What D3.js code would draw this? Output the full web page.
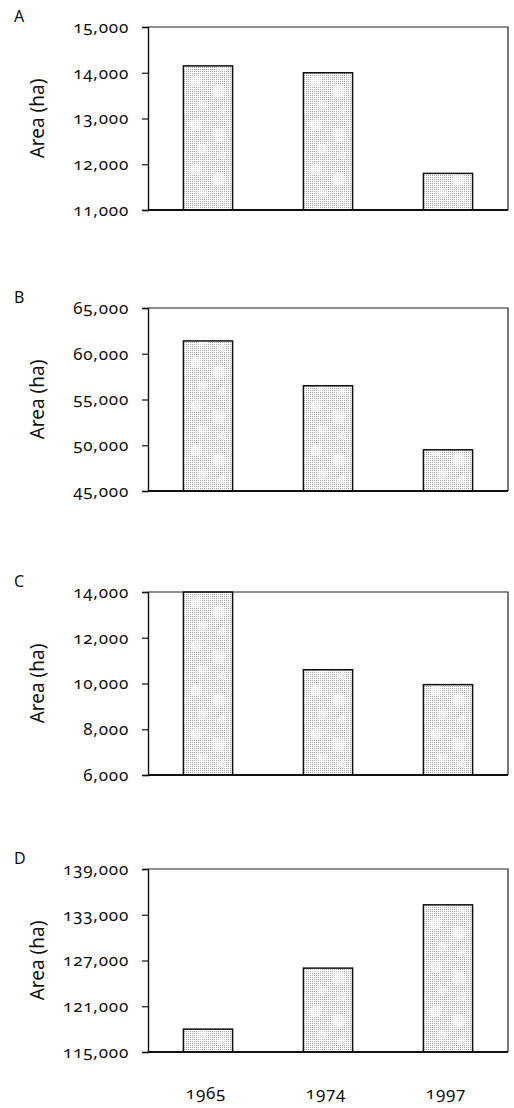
<!DOCTYPE html>
<html>
<head>
<meta charset="utf-8">
<script src="https://cdn.jsdelivr.net/npm/d3@7"></script>
<style>
  body { margin: 0; background: #fff; }
  svg text { font-family: 'Noto Sans', sans-serif; font-variant-numeric: oldstyle-nums; fill: #111; }
</style>
</head>
<body>
<div id="chart"></div>
<script>
const years = ['1965', '1974', '1997'];
const panelLabels = ['A', 'B', 'C', 'D'];
const areaA = [14150, 14000, 11800];
const areaB = [61400, 56500, 49500];
const areaC = [14000, 10600, 9950];
const areaD = [118000, 126000, 134300];
const ticksA = [11000, 12000, 13000, 14000, 15000];
const ticksB = [45000, 50000, 55000, 60000, 65000];
const ticksC = [6000, 8000, 10000, 12000, 14000];
const ticksD = [115000, 121000, 127000, 133000, 139000];
const yLabel = 'Area (ha)';

const panels = [
  { label: panelLabels[0], values: areaA, ticks: ticksA, top: 27 },
  { label: panelLabels[1], values: areaB, ticks: ticksB, top: 308 },
  { label: panelLabels[2], values: areaC, ticks: ticksC, top: 592 },
  { label: panelLabels[3], values: areaD, ticks: ticksD, top: 869 }
];

const width = 514, height = 1108;
const left = 148, plotW = 360, plotH = 183;

const svg = d3.select('#chart')
  .append('svg')
  .attr('width', width)
  .attr('height', height);

// stipple fill for the bars: fine dots with a few lighter blotches
const defs = svg.append('defs');
const dots = defs.append('pattern')
  .attr('id', 'dots')
  .attr('patternUnits', 'userSpaceOnUse')
  .attr('width', 2)
  .attr('height', 2);
dots.append('rect').attr('width', 2).attr('height', 2).attr('fill', '#fff');
dots.append('rect').attr('width', 1).attr('height', 1).attr('fill', '#a6a6a6');

const pat = defs.append('pattern')
  .attr('id', 'stipple')
  .attr('patternUnits', 'userSpaceOnUse')
  .attr('width', 40)
  .attr('height', 44);
pat.append('rect').attr('width', 40).attr('height', 44).attr('fill', 'url(#dots)');
[[8, 10, 6], [30, 20, 7], [14, 34, 5], [34, 40, 4]].forEach(([cx, cy, r]) => {
  pat.append('circle')
    .attr('cx', cx).attr('cy', cy).attr('r', r)
    .attr('fill', '#fff').attr('opacity', 0.6);
});

const x = d3.scaleBand()
  .domain(years)
  .range([0, plotW])
  .paddingInner(0.59)
  .paddingOuter(0.295);

const fmt = d3.format(',');

panels.forEach((p) => {
  const g = svg.append('g').attr('transform', `translate(${left},${p.top})`);
  const y = d3.scaleLinear()
    .domain(d3.extent(p.ticks))
    .range([plotH, 0]);

  // panel letter
  svg.append('text')
    .attr('x', 14)
    .attr('y', p.top - 5)
    .style('font-size', '16px')
    .text(p.label);

  // bars
  g.selectAll('rect.bar')
    .data(p.values)
    .join('rect')
    .attr('class', 'bar')
    .attr('x', (d, i) => x(years[i]))
    .attr('y', (d) => y(d))
    .attr('width', x.bandwidth())
    .attr('height', (d) => plotH - y(d))
    .attr('fill', 'url(#stipple)')
    .attr('stroke', '#111')
    .attr('stroke-width', 1.5);

  // frame top and right
  g.append('path')
    .attr('d', `M0,0H${plotW}V${plotH}`)
    .attr('fill', 'none')
    .attr('stroke', '#222')
    .attr('stroke-width', 1.2);

  // y axis
  const yAxis = g.append('g')
    .call(d3.axisLeft(y).tickValues(p.ticks).tickFormat(fmt).tickSize(6).tickPadding(13));
  yAxis.select('.domain').attr('stroke', '#111').attr('stroke-width', 1.4);
  yAxis.selectAll('.tick line').attr('stroke', '#111').attr('stroke-width', 1.2);
  yAxis.selectAll('.tick text')
    .style('font-size', '17px')
    .style('letter-spacing', '0.8px')
    .style('font-family', "'Noto Sans', sans-serif");

  // baseline
  g.append('line')
    .attr('x1', 0)
    .attr('x2', plotW)
    .attr('y1', plotH)
    .attr('y2', plotH)
    .attr('stroke', '#111')
    .attr('stroke-width', 2);

  // y title
  g.append('text')
    .attr('transform', `translate(${37 - left},${plotH / 2}) rotate(-90)`)
    .attr('dy', '0.35em')
    .style('text-anchor', 'middle')
    .style('font-size', '19px')
    .text(yLabel);
});

// year labels below the last panel
const last = panels[panels.length - 1];
svg.append('g')
  .selectAll('text')
  .data(years)
  .join('text')
  .attr('x', (d) => left + x(d) + x.bandwidth() / 2 - 2)
  .attr('y', last.top + plotH + 47)
  .style('text-anchor', 'middle')
  .style('font-size', '17px')
  .style('letter-spacing', '0.8px')
  .text((d) => d);
</script>
</body>
</html>
